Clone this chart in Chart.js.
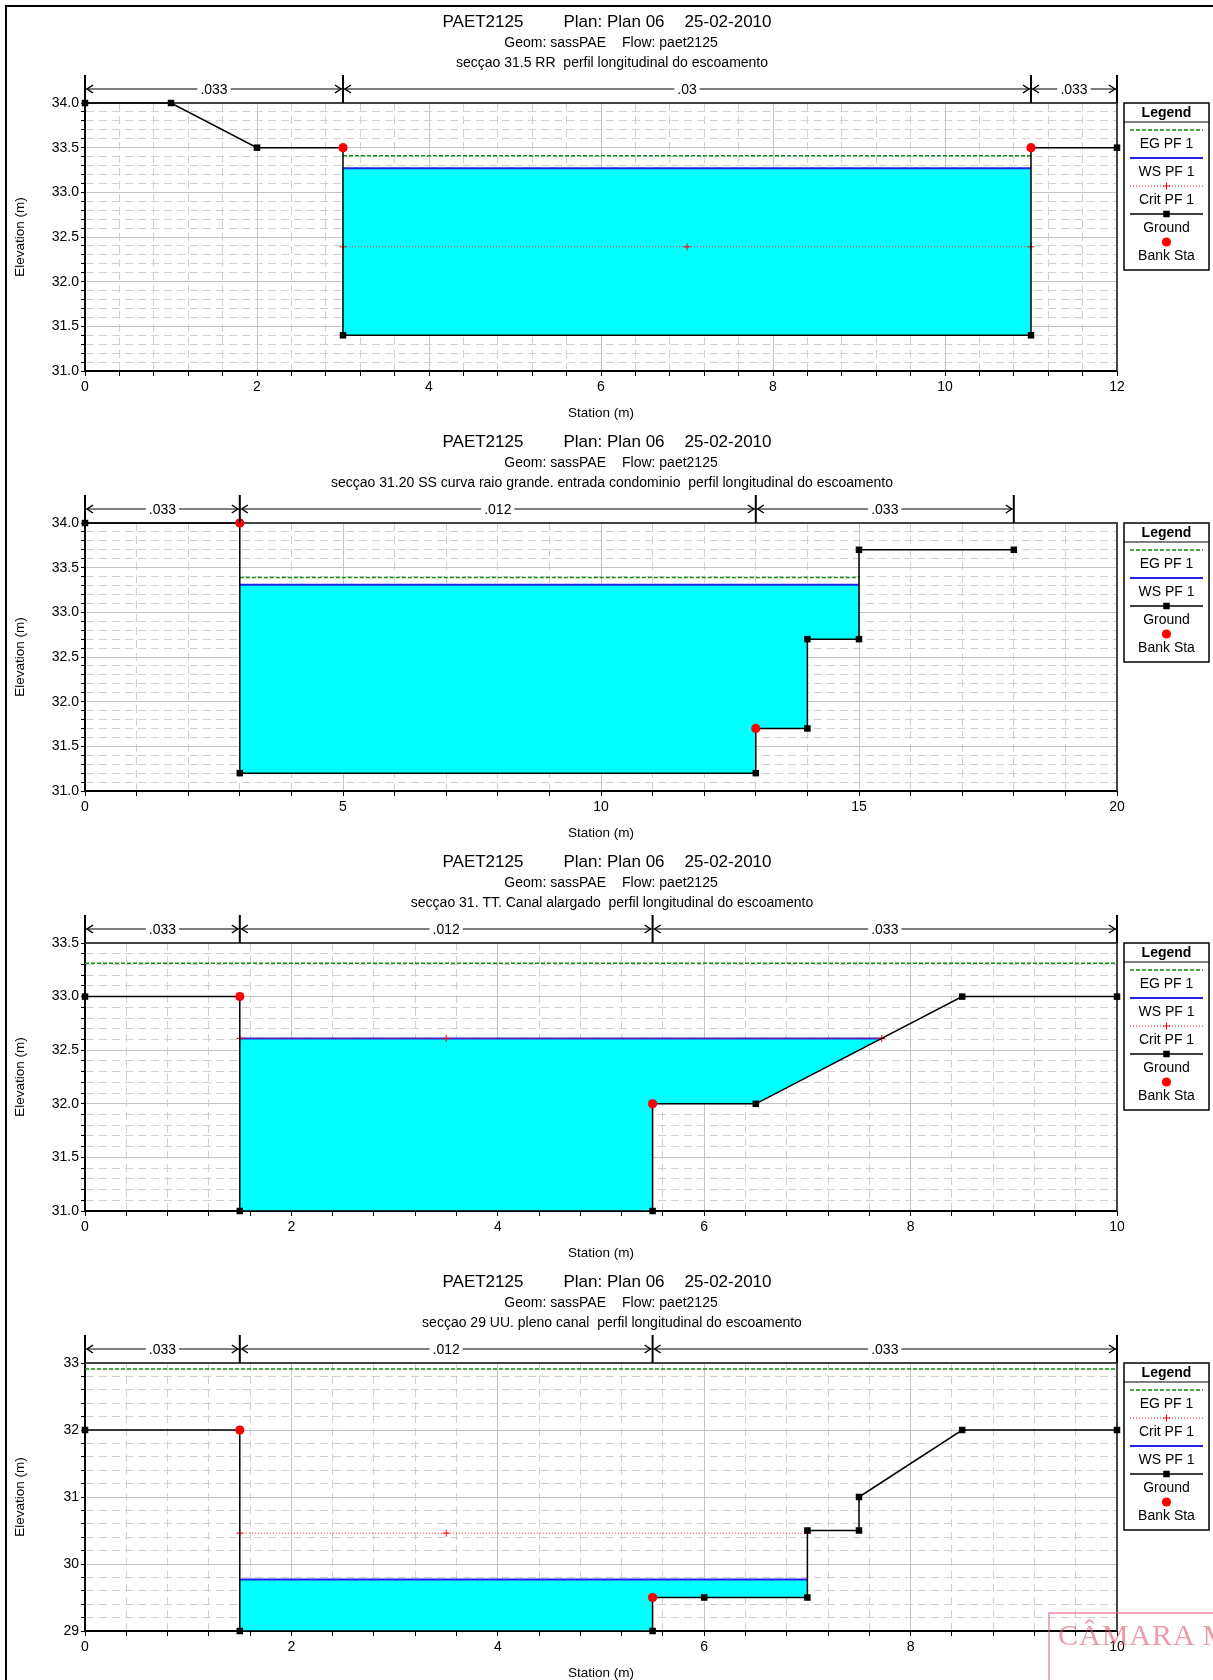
<!DOCTYPE html>
<html>
<head>
<meta charset="utf-8">
<title>PAET2125 - secções</title>
<script src="https://cdn.jsdelivr.net/npm/chart.js@4.4.1/dist/chart.umd.min.js"></script>
<style>
  body { margin: 0; background: #fff; }
  #page { position: relative; width: 1213px; height: 1680px; overflow: hidden; }
  #page canvas { position: absolute; left: 0; }
  #frame { position: absolute; left: 5px; top: 5px; width: 1300px; height: 1700px;
           border-left: 2px solid #000; border-top: 2px solid #000; }
  #stamp { position: absolute; left: 1048px; top: 1612px; width: 260px; height: 110px;
           border: 2px solid rgba(225, 90, 110, 0.5); box-sizing: border-box; }
  #stamp span { position: absolute; left: 8px; top: 4px; white-space: nowrap;
                font: 30px "Liberation Serif", serif; letter-spacing: 1px;
                color: rgba(215, 75, 100, 0.55); }
</style>
</head>
<body>
<div id="page">
  <div id="frame"></div>
  <canvas id="sec1" width="1213" height="420" style="top:0px"></canvas>
  <canvas id="sec2" width="1213" height="420" style="top:420px"></canvas>
  <canvas id="sec3" width="1213" height="420" style="top:840px"></canvas>
  <canvas id="sec4" width="1213" height="420" style="top:1260px"></canvas>
  <div id="stamp"><span>CÂMARA M</span></div>
</div>
<script>
// common header
var titleParts = ['PAET2125', 'Plan: Plan 06', '25-02-2010'];
var geomParts = ['Geom: sassPAE', 'Flow: paet2125'];

// secçao 31.5 RR
var s1Name = 'secçao 31.5 RR  perfil longitudinal do escoamento';
var s1GroundX = [0, 1, 2, 3, 3, 11, 11, 12];
var s1GroundY = [34, 34, 33.5, 33.5, 31.4, 31.4, 33.5, 33.5];
var s1BankX = [3, 11];
var s1BankY = [33.5, 33.5];
var s1WsX = [3, 11];
var s1Ws = 33.27;
var s1EgX = [3, 11];
var s1Eg = 33.41;
var s1CritX = [3, 7, 11];
var s1Crit = 32.39;
var s1NSta = [0, 3, 11, 12];
var s1NVal = ['.033', '.03', '.033'];
var s1Legend = ['EG PF 1', 'WS PF 1', 'Crit PF 1', 'Ground', 'Bank Sta'];
var s1XTicks = [0, 12, 0.4, 2];     // min, max, step, label every
var s1YTicks = [31, 34, 0.1, 0.5];

// secçao 31.20 SS
var s2Name = 'secçao 31.20 SS curva raio grande. entrada condominio  perfil longitudinal do escoamento';
var s2GroundX = [0, 3, 3, 13, 13, 14, 14, 15, 15, 18];
var s2GroundY = [34, 34, 31.2, 31.2, 31.7, 31.7, 32.7, 32.7, 33.7, 33.7];
var s2BankX = [3, 13];
var s2BankY = [34, 31.7];
var s2WsX = [3, 15];
var s2Ws = 33.31;
var s2EgX = [3, 15];
var s2Eg = 33.39;
var s2CritX = [];
var s2Crit = null;
var s2NSta = [0, 3, 13, 18];
var s2NVal = ['.033', '.012', '.033'];
var s2Legend = ['EG PF 1', 'WS PF 1', 'Ground', 'Bank Sta'];
var s2XTicks = [0, 20, 1, 5];
var s2YTicks = [31, 34, 0.1, 0.5];

// secçao 31. TT
var s3Name = 'secçao 31. TT. Canal alargado  perfil longitudinal do escoamento';
var s3GroundX = [0, 1.5, 1.5, 5.5, 5.5, 6.5, 8.5, 10];
var s3GroundY = [33, 33, 31, 31, 32, 32, 33, 33];
var s3BankX = [1.5, 5.5];
var s3BankY = [33, 32];
var s3WsX = [1.5, 7.72];
var s3Ws = 32.61;
var s3EgX = [0, 10];
var s3Eg = 33.31;
var s3CritX = [1.5, 3.5, 7.72];
var s3Crit = 32.61;
var s3NSta = [0, 1.5, 5.5, 10];
var s3NVal = ['.033', '.012', '.033'];
var s3Legend = ['EG PF 1', 'WS PF 1', 'Crit PF 1', 'Ground', 'Bank Sta'];
var s3XTicks = [0, 10, 0.4, 2];
var s3YTicks = [31, 33.5, 0.1, 0.5];

// secçao 29 UU
var s4Name = 'secçao 29 UU. pleno canal  perfil longitudinal do escoamento';
var s4GroundX = [0, 1.5, 1.5, 5.5, 5.5, 6, 7, 7, 7.5, 7.5, 8.5, 10];
var s4GroundY = [32, 32, 29, 29, 29.5, 29.5, 29.5, 30.5, 30.5, 31, 32, 32];
var s4BankX = [1.5, 5.5];
var s4BankY = [32, 29.5];
var s4WsX = [1.5, 7];
var s4Ws = 29.77;
var s4EgX = [0, 10];
var s4Eg = 32.91;
var s4CritX = [1.5, 3.5, 7];
var s4Crit = 30.46;
var s4NSta = [0, 1.5, 5.5, 10];
var s4NVal = ['.033', '.012', '.033'];
var s4Legend = ['EG PF 1', 'Crit PF 1', 'WS PF 1', 'Ground', 'Bank Sta'];
var s4XTicks = [0, 10, 0.4, 2];
var s4YTicks = [29, 33, 0.2, 1];

var FONT = '"Liberation Sans", Arial, sans-serif';
Chart.defaults.font.family = FONT;
Chart.defaults.color = '#000';

function pts(xs, ys) {
    return xs.map(function (x, i) { return {x: x, y: Array.isArray(ys) ? ys[i] : ys}; });
}

// water area: WS level down to the ground between the WS ends
function waterPoly(gx, gy, wsX, ws) {
    var out = [{x: wsX[0], y: ws}];
    gx.forEach(function (x, i) {
        if (x >= wsX[0] && x <= wsX[1] && gy[i] < ws) out.push({x: x, y: gy[i]});
    });
    out.push({x: wsX[1], y: ws});
    return out;
}

function isMajor(v, every) {
    var r = v / every;
    return Math.abs(r - Math.round(r)) < 1e-6;
}

function drawSpaced(ctx, parts, gaps, cx, y) {
    var ws = parts.map(function (p) { return ctx.measureText(p).width; });
    var total = ws.reduce(function (s, w) { return s + w; }, 0) + gaps.reduce(function (s, g) { return s + g; }, 0);
    var x = cx - total / 2;
    ctx.textAlign = 'left';
    parts.forEach(function (p, i) { ctx.fillText(p, x, y); x += ws[i] + (gaps[i] || 0); });
}

function drawHeader(chart, name) {
    var ctx = chart.ctx;
    ctx.save();
    ctx.fillStyle = '#000';
    ctx.textBaseline = 'middle';
    ctx.font = '17px ' + FONT;
    drawSpaced(ctx, titleParts, [40, 20], 607, 22);
    ctx.font = '14px ' + FONT;
    drawSpaced(ctx, geomParts, [16], 611, 43);
    ctx.textAlign = 'center';
    ctx.fillText(name, 612, 63);
    ctx.restore();
}

// manning's n bar above the plot
function drawRoughness(chart, sta, val) {
    var ctx = chart.ctx, a = chart.chartArea, x = chart.scales.x;
    var y = a.top - 14;
    ctx.save();
    ctx.font = '14px ' + FONT;
    ctx.textAlign = 'center';
    ctx.textBaseline = 'middle';
    val.forEach(function (v, i) {
        var p0 = x.getPixelForValue(sta[i]), p1 = x.getPixelForValue(sta[i + 1]);
        ctx.strokeStyle = '#555';
        ctx.lineWidth = 1.5;
        ctx.beginPath(); ctx.moveTo(p0 + 1, y); ctx.lineTo(p1 - 1, y); ctx.stroke();
        ctx.strokeStyle = '#000';
        ctx.beginPath();
        ctx.moveTo(p0 + 8, y - 4); ctx.lineTo(p0 + 2, y); ctx.lineTo(p0 + 8, y + 4);
        ctx.moveTo(p1 - 8, y - 4); ctx.lineTo(p1 - 2, y); ctx.lineTo(p1 - 8, y + 4);
        ctx.stroke();
        var w = ctx.measureText(v).width + 6, cx = (p0 + p1) / 2;
        ctx.fillStyle = '#fff';
        ctx.fillRect(cx - w / 2, y - 8, w, 16);
        ctx.fillStyle = '#000';
        ctx.fillText(v, cx, y + 1);
    });
    ctx.strokeStyle = '#000';
    ctx.lineWidth = 2;
    sta.forEach(function (s) {
        var p = x.getPixelForValue(s);
        ctx.beginPath(); ctx.moveTo(p, a.top - 28); ctx.lineTo(p, a.top); ctx.stroke();
    });
    ctx.restore();
}

function drawMarker(ctx, ds, cx, cy) {
    var r = ds.pointRadius;
    if (!r) return;
    ctx.save();
    ctx.setLineDash([]);
    ctx.fillStyle = ds.pointBackgroundColor;
    ctx.strokeStyle = ds.pointBorderColor;
    ctx.lineWidth = 1;
    ctx.beginPath();
    if (ds.pointStyle === 'rect') {
        var s = r * Math.SQRT1_2;
        ctx.rect(cx - s, cy - s, 2 * s, 2 * s); ctx.fill();
    } else if (ds.pointStyle === 'cross') {
        ctx.moveTo(cx - r, cy); ctx.lineTo(cx + r, cy);
        ctx.moveTo(cx, cy - r); ctx.lineTo(cx, cy + r); ctx.stroke();
    } else {
        ctx.arc(cx, cy, r, 0, Math.PI * 2); ctx.fill();
    }
    ctx.restore();
}

function drawLegend(chart, labels) {
    var ctx = chart.ctx, a = chart.chartArea;
    var L = 1124, R = 1209, T = a.top, H = 27 + labels.length * 28, C = (L + R) / 2;
    ctx.save();
    ctx.fillStyle = '#fff';
    ctx.fillRect(L, T, R - L, H);
    ctx.strokeStyle = '#000';
    ctx.lineWidth = 1.5;
    ctx.strokeRect(L, T, R - L, H);
    ctx.lineWidth = 1;
    ctx.beginPath(); ctx.moveTo(L, T + 19); ctx.lineTo(R, T + 19); ctx.stroke();
    ctx.fillStyle = '#000';
    ctx.textAlign = 'center';
    ctx.textBaseline = 'middle';
    ctx.font = 'bold 14px ' + FONT;
    ctx.fillText('Legend', C, T + 10);
    ctx.font = '14px ' + FONT;
    labels.forEach(function (lab, k) {
        var ds = chart.data.datasets.filter(function (d) { return d.label === lab; })[0];
        var ly = T + 27 + k * 28;
        if (ds.showLine !== false) {
            ctx.save();
            ctx.strokeStyle = ds.borderColor;
            ctx.lineWidth = ds.borderWidth;
            ctx.setLineDash(ds.borderDash || []);
            ctx.beginPath(); ctx.moveTo(L + 6, ly); ctx.lineTo(R - 6, ly); ctx.stroke();
            ctx.restore();
        }
        drawMarker(ctx, ds, C, ly);
        ctx.fillStyle = '#000';
        ctx.fillText(lab, C, ly + 14);
    });
    ctx.restore();
}

function sectionPlugin(sec) {
    return {
        id: 'section',
        beforeDatasetsDraw: function (chart) {
            var ctx = chart.ctx, a = chart.chartArea;
            ctx.save();
            ctx.strokeStyle = '#444';
            ctx.lineWidth = 2;
            ctx.beginPath();
            ctx.moveTo(a.left, a.top); ctx.lineTo(a.right, a.top); ctx.lineTo(a.right, a.bottom);
            ctx.stroke();
            ctx.restore();
        },
        afterDraw: function (chart) {
            drawHeader(chart, sec.name);
            drawRoughness(chart, sec.nSta, sec.nVal);
            drawLegend(chart, sec.legend);
        }
    };
}

function axis(t, isY, title) {
    var min = t[0], max = t[1], step = t[2], every = t[3];
    return {
        type: 'linear',
        min: min,
        max: max,
        afterFit: function (s) { if (isY) s.width = 85; else s.height = 49; },
        ticks: {
            stepSize: step,
            autoSkip: false,
            maxRotation: 0,
            padding: isY ? 2 : 3,
            font: {size: 14},
            color: '#000',
            callback: function (v) {
                if (!isMajor(v, every)) return '';
                return every < 1 ? v.toFixed(1) : String(Math.round(v));
            }
        },
        grid: {
            color: function (c) { return c.tick && isMajor(c.tick.value, every) ? '#c4c4c4' : '#d0d0d0'; },
            lineWidth: 1,
            tickLength: isY ? 4 : 5,
            tickColor: '#000',
            tickWidth: 1
        },
        border: {
            color: '#000',
            width: 2,
            dash: function (c) { return c.tick && !isMajor(c.tick.value, every) ? [8, 5] : []; }
        },
        title: {
            display: true,
            text: title,
            font: {size: 13.5, lineHeight: 1},
            color: '#000',
            padding: isY ? {top: 14, bottom: 0} : {top: 0, bottom: 0}
        }
    };
}

function makeSection(id, sec) {
    var datasets = [
        {label: 'water', data: waterPoly(sec.gx, sec.gy, sec.wsX, sec.ws), fill: 'shape',
         backgroundColor: '#00ffff', borderColor: 'rgba(0,0,0,0)', borderWidth: 0, pointRadius: 0, order: 10},
        {label: 'EG PF 1', data: pts(sec.egX, sec.eg), borderColor: '#109010', borderDash: [4, 2],
         borderWidth: 1.5, pointRadius: 0, fill: false, order: 6},
        {label: 'WS PF 1', data: pts(sec.wsX, sec.ws), borderColor: '#2222ee', borderWidth: 2,
         pointRadius: 0, fill: false, order: 5}
    ];
    if (sec.critX.length) {
        datasets.push({label: 'Crit PF 1', data: pts(sec.critX, sec.crit), borderColor: '#ff2020',
            borderDash: [1, 2], borderWidth: 1, pointStyle: 'cross', pointRadius: 3.5,
            pointBorderColor: '#ff0000', pointBackgroundColor: '#ff0000', pointBorderWidth: 1,
            fill: false, order: 4});
    }
    datasets.push({label: 'Ground', data: pts(sec.gx, sec.gy), borderColor: '#000', borderWidth: 1.5,
        pointStyle: 'rect', pointRadius: 4.6, pointBackgroundColor: '#000', pointBorderColor: '#000',
        pointBorderWidth: 0, fill: false, order: 3});
    datasets.push({label: 'Bank Sta', data: pts(sec.bankX, sec.bankY), showLine: false,
        pointStyle: 'circle', pointRadius: 4.6, pointBackgroundColor: '#ff0000',
        pointBorderColor: '#ff0000', pointBorderWidth: 0, order: 1});
    datasets.forEach(function (d) { d.clip = false; d.tension = 0; });

    new Chart(document.getElementById(id).getContext('2d'), {
        type: 'line',
        data: {datasets: datasets},
        options: {
            responsive: false,
            animation: false,
            devicePixelRatio: 1,
            events: [],
            layout: {padding: {left: 0, top: 103, right: 96, bottom: 0}},
            plugins: {legend: {display: false}, tooltip: {enabled: false}, title: {display: false}},
            scales: {
                x: axis(sec.xt, false, 'Station (m)'),
                y: axis(sec.yt, true, 'Elevation (m)')
            }
        },
        plugins: [sectionPlugin(sec)]
    });
}

makeSection('sec1', {name: s1Name, gx: s1GroundX, gy: s1GroundY, bankX: s1BankX, bankY: s1BankY,
    wsX: s1WsX, ws: s1Ws, egX: s1EgX, eg: s1Eg, critX: s1CritX, crit: s1Crit,
    nSta: s1NSta, nVal: s1NVal, legend: s1Legend, xt: s1XTicks, yt: s1YTicks});
makeSection('sec2', {name: s2Name, gx: s2GroundX, gy: s2GroundY, bankX: s2BankX, bankY: s2BankY,
    wsX: s2WsX, ws: s2Ws, egX: s2EgX, eg: s2Eg, critX: s2CritX, crit: s2Crit,
    nSta: s2NSta, nVal: s2NVal, legend: s2Legend, xt: s2XTicks, yt: s2YTicks});
makeSection('sec3', {name: s3Name, gx: s3GroundX, gy: s3GroundY, bankX: s3BankX, bankY: s3BankY,
    wsX: s3WsX, ws: s3Ws, egX: s3EgX, eg: s3Eg, critX: s3CritX, crit: s3Crit,
    nSta: s3NSta, nVal: s3NVal, legend: s3Legend, xt: s3XTicks, yt: s3YTicks});
makeSection('sec4', {name: s4Name, gx: s4GroundX, gy: s4GroundY, bankX: s4BankX, bankY: s4BankY,
    wsX: s4WsX, ws: s4Ws, egX: s4EgX, eg: s4Eg, critX: s4CritX, crit: s4Crit,
    nSta: s4NSta, nVal: s4NVal, legend: s4Legend, xt: s4XTicks, yt: s4YTicks});
</script>
</body>
</html>
